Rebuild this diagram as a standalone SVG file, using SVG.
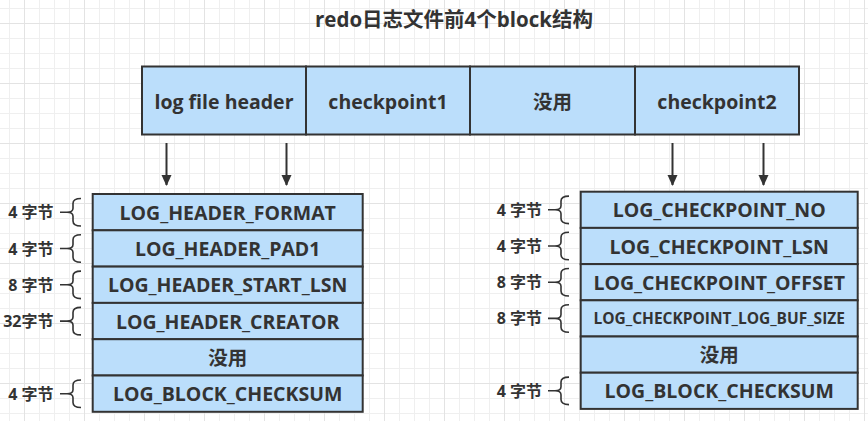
<svg xmlns="http://www.w3.org/2000/svg" width="868" height="421" viewBox="0 0 868 421">
<defs>
<pattern id="grid" x="24" y="23" width="60" height="60" patternUnits="userSpaceOnUse">
<path d="M15.5,0V60M30.5,0V60M45.5,0V60M0,15.5H60M0,30.5H60M0,45.5H60" stroke="#efefef" stroke-width="1" fill="none"/>
<path d="M0.5,0V60M0,0.5H60" stroke="#e3e3e3" stroke-width="1" fill="none"/>
</pattern>
<marker id="arr" markerUnits="userSpaceOnUse" markerWidth="12" markerHeight="14" refX="10" refY="5" orient="auto" viewBox="0 0 12 10">
<path d="M0,0 L11,5 L0,10 Z" fill="#333"/>
</marker>
</defs>
<style>
.box{fill:#bbdefb;stroke:#333;stroke-width:2}
.t{font-family:"Open Sans","Noto Sans CJK SC",sans-serif;font-weight:bold;fill:#333;text-anchor:middle;dominant-baseline:central}
.big{font-size:19.5px}
.sm{font-size:15.5px}
.title{font-size:20.5px}
.lb{font-family:"Open Sans","Noto Sans CJK SC",sans-serif;font-weight:bold;fill:#333;font-size:16px;text-anchor:end;dominant-baseline:central}
.br{fill:none;stroke:#333;stroke-width:1.6}
.cn{stroke:#333;stroke-width:2;fill:none}
</style>
<rect width="868" height="421" fill="#fff"/>
<rect width="868" height="421" fill="url(#grid)"/>
<text class="t title" x="454" y="19">redo日志文件前4个block结构</text>

<g id="top">
<g id="n-logfileheader"><rect class="box" x="142" y="66.5" width="164" height="68"/><text class="t big" x="224" y="101">log file header</text></g>
<g id="n-checkpoint1"><rect class="box" x="306" y="66.5" width="164" height="68"/><text class="t big" x="388" y="101">checkpoint1</text></g>
<g id="n-unused-top"><rect class="box" x="470" y="66.5" width="165" height="68"/><text class="t big" x="552.5" y="101">没用</text></g>
<g id="n-checkpoint2"><rect class="box" x="635" y="66.5" width="164" height="68"/><text class="t big" x="717" y="101">checkpoint2</text></g>
</g>

<g id="connectors">
<line class="cn" x1="166.5" y1="143" x2="166.5" y2="185" marker-end="url(#arr)"/>
<line class="cn" x1="286.5" y1="143" x2="286.5" y2="185" marker-end="url(#arr)"/>
<line class="cn" x1="672.5" y1="143" x2="672.5" y2="185" marker-end="url(#arr)"/>
<line class="cn" x1="763.5" y1="143" x2="763.5" y2="185" marker-end="url(#arr)"/>
</g>

<g id="left-block">
<g id="n-l1"><rect class="box" x="92.7" y="194" width="270" height="36.3"/><text class="t big" x="227.7" y="212.2">LOG_HEADER_FORMAT</text></g>
<g id="n-l2"><rect class="box" x="92.7" y="230.3" width="270" height="36.3"/><text class="t big" x="227.7" y="248.5">LOG_HEADER_PAD1</text></g>
<g id="n-l3"><rect class="box" x="92.7" y="266.6" width="270" height="36.3"/><text class="t big" x="227.7" y="284.8">LOG_HEADER_START_LSN</text></g>
<g id="n-l4"><rect class="box" x="92.7" y="302.9" width="270" height="36.3"/><text class="t big" x="227.7" y="321.1">LOG_HEADER_CREATOR</text></g>
<g id="n-l5"><rect class="box" x="92.7" y="339.2" width="270" height="36.3"/><text class="t big" x="227.7" y="357.4">没用</text></g>
<g id="n-l6"><rect class="box" x="92.7" y="375.5" width="270" height="36.3"/><text class="t big" x="227.7" y="393.7">LOG_BLOCK_CHECKSUM</text></g>
</g>

<g id="right-block">
<g id="n-r1"><rect class="box" x="580.7" y="191.7" width="277" height="36.2"/><text class="t big" x="719.2" y="209.8">LOG_CHECKPOINT_NO</text></g>
<g id="n-r2"><rect class="box" x="580.7" y="227.9" width="277" height="36.2"/><text class="t big" x="719.2" y="246">LOG_CHECKPOINT_LSN</text></g>
<g id="n-r3"><rect class="box" x="580.7" y="264.1" width="277" height="36.2"/><text class="t big" x="719.2" y="282.2">LOG_CHECKPOINT_OFFSET</text></g>
<g id="n-r4"><rect class="box" x="580.7" y="300.3" width="277" height="36.2"/><text class="t sm" x="719.2" y="318.4">LOG_CHECKPOINT_LOG_BUF_SIZE</text></g>
<g id="n-r5"><rect class="box" x="580.7" y="336.5" width="277" height="36.2"/><text class="t big" x="719.2" y="354.6">没用</text></g>
<g id="n-r6"><rect class="box" x="580.7" y="372.7" width="277" height="36.2"/><text class="t big" x="719.2" y="390.8">LOG_BLOCK_CHECKSUM</text></g>
</g>

<g id="left-labels">
<text class="lb" x="53.5" y="212.2">4 字节</text>
<path class="br" d="M60,212.2H67M81,198.5Q73,198.5 73,203.5V208.2Q73,212.2 67,212.2Q73,212.2 73,216.2V221Q73,226 81,226"/>
<text class="lb" x="53.5" y="248.5">4 字节</text>
<path class="br" d="M60,248.5H67M81,234.8Q73,234.8 73,239.8V244.5Q73,248.5 67,248.5Q73,248.5 73,252.5V257.3Q73,262.3 81,262.3"/>
<text class="lb" x="53.5" y="284.8">8 字节</text>
<path class="br" d="M60,284.8H67M81,271.1Q73,271.1 73,276.1V280.8Q73,284.8 67,284.8Q73,284.8 73,288.8V293.6Q73,298.6 81,298.6"/>
<text class="lb" x="53.5" y="321.1">32字节</text>
<path class="br" d="M60,321.1H67M81,307.4Q73,307.4 73,312.4V317.1Q73,321.1 67,321.1Q73,321.1 73,325.1V329.9Q73,334.9 81,334.9"/>
<text class="lb" x="53.5" y="393.7">4 字节</text>
<path class="br" d="M60,393.7H67M81,380Q73,380 73,385V389.7Q73,393.7 67,393.7Q73,393.7 73,397.7V402.5Q73,407.5 81,407.5"/>
</g>

<g id="right-labels">
<text class="lb" x="542" y="209.8">4 字节</text>
<path class="br" d="M548,209.8H555M569,196.1Q561,196.1 561,201.1V205.8Q561,209.8 555,209.8Q561,209.8 561,213.8V218.6Q561,223.6 569,223.6"/>
<text class="lb" x="542" y="246">4 字节</text>
<path class="br" d="M548,246H555M569,232.3Q561,232.3 561,237.3V242Q561,246 555,246Q561,246 561,250V254.8Q561,259.8 569,259.8"/>
<text class="lb" x="542" y="282.2">8 字节</text>
<path class="br" d="M548,282.2H555M569,268.5Q561,268.5 561,273.5V278.2Q561,282.2 555,282.2Q561,282.2 561,286.2V291Q561,296 569,296"/>
<text class="lb" x="542" y="318.4">8 字节</text>
<path class="br" d="M548,318.4H555M569,304.7Q561,304.7 561,309.7V314.4Q561,318.4 555,318.4Q561,318.4 561,322.4V327.2Q561,332.2 569,332.2"/>
<text class="lb" x="542" y="390.8">4 字节</text>
<path class="br" d="M548,390.8H555M569,377.1Q561,377.1 561,382.1V386.8Q561,390.8 555,390.8Q561,390.8 561,394.8V399.6Q561,404.6 569,404.6"/>
</g>
</svg>
